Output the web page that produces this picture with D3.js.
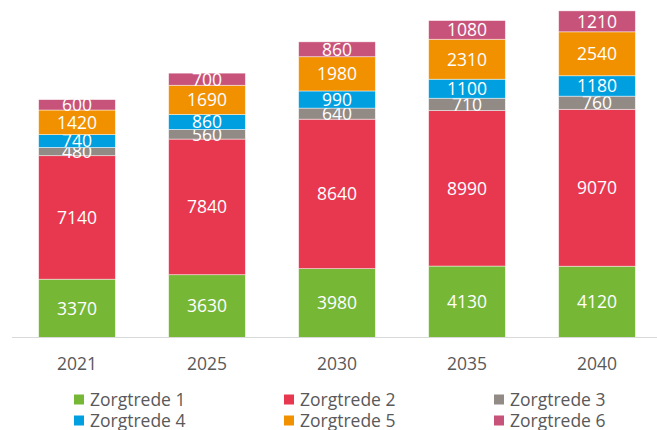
<!DOCTYPE html>
<html>
<head>
<meta charset="utf-8">
<script src="https://cdn.jsdelivr.net/npm/d3@7"></script>
<style>
  body { margin: 0; background: #fff; }
  svg text { font-family: "Open Sans", sans-serif; }
</style>
</head>
<body>
<svg id="chart" width="657" height="430"></svg>
<script>
// data
const years = ["2021", "2025", "2030", "2035", "2040"];
const seriesNames = ["Zorgtrede 1", "Zorgtrede 2", "Zorgtrede 3", "Zorgtrede 4", "Zorgtrede 5", "Zorgtrede 6"];
const trede1 = [3370, 3630, 3980, 4130, 4120];
const trede2 = [7140, 7840, 8640, 8990, 9070];
const trede3 = [480, 560, 640, 710, 760];
const trede4 = [740, 860, 990, 1100, 1180];
const trede5 = [1420, 1690, 1980, 2310, 2540];
const trede6 = [600, 700, 860, 1080, 1210];
const colors = ["#76b736", "#e83850", "#928a85", "#00a0e0", "#f29100", "#c8537a"];

const allSeries = [trede1, trede2, trede3, trede4, trede5, trede6];
const rows = years.map((y, i) => {
  const r = { year: y };
  seriesNames.forEach((s, k) => r[s] = allSeries[k][i]);
  return r;
});

const svg = d3.select("#chart");
const baseY = 337.5;

const x = d3.scaleBand()
  .domain(years)
  .range([12, 662])
  .paddingInner(0.41)
  .paddingOuter(0.205);

const y = d3.scaleLinear()
  .domain([0, 20000])
  .range([baseY, baseY - 346]);

const stacked = d3.stack().keys(seriesNames)(rows);

const groups = svg.selectAll(".layer")
  .data(stacked)
  .join("g")
  .attr("class", "layer")
  .attr("fill", (d, i) => colors[i]);

groups.selectAll("rect")
  .data(d => d)
  .join("rect")
  .attr("x", d => x(d.data.year))
  .attr("width", x.bandwidth())
  .attr("y", d => y(d[1]))
  .attr("height", d => y(d[0]) - y(d[1]))
  .attr("stroke", "#ffffff")
  .attr("stroke-opacity", 0.6)
  .attr("stroke-width", 0.75);

// value labels
groups.selectAll("text")
  .data((d) => d.map(v => ({ v: v, key: d.key })))
  .join("text")
  .attr("x", d => x(d.v.data.year) + x.bandwidth() / 2)
  .attr("y", d => (y(d.v[0]) + y(d.v[1])) / 2)
  .attr("dy", "0.36em")
  .attr("text-anchor", "middle")
  .attr("fill", "#ffffff")
  .style("font-size", "17.5px")
  .text(d => d.v.data[d.key]);

// x axis line
svg.append("line")
  .attr("x1", 12).attr("x2", 657)
  .attr("y1", baseY).attr("y2", baseY)
  .attr("stroke", "#d9d9d9")
  .attr("stroke-width", 1.2);

svg.selectAll(".xlab")
  .data(years)
  .join("text")
  .attr("class", "xlab")
  .attr("x", d => x(d) + x.bandwidth() / 2)
  .attr("y", 364)
  .attr("dy", "0.36em")
  .attr("text-anchor", "middle")
  .attr("fill", "#595959")
  .style("font-size", "17.5px")
  .text(d => d);

// legend
const legend = svg.selectAll(".leg")
  .data(seriesNames)
  .join("g")
  .attr("class", "leg")
  .attr("transform", (d, i) => `translate(${74 + (i % 3) * 210}, ${399.5 + Math.floor(i / 3) * 21})`);

legend.append("rect")
  .attr("x", 0).attr("y", -5)
  .attr("width", 10).attr("height", 10)
  .attr("fill", (d, i) => colors[i]);

legend.append("text")
  .attr("x", 16)
  .attr("y", 0)
  .attr("dy", "0.36em")
  .attr("fill", "#595959")
  .style("font-size", "17.5px")
  .text(d => d);
</script>
</body>
</html>
